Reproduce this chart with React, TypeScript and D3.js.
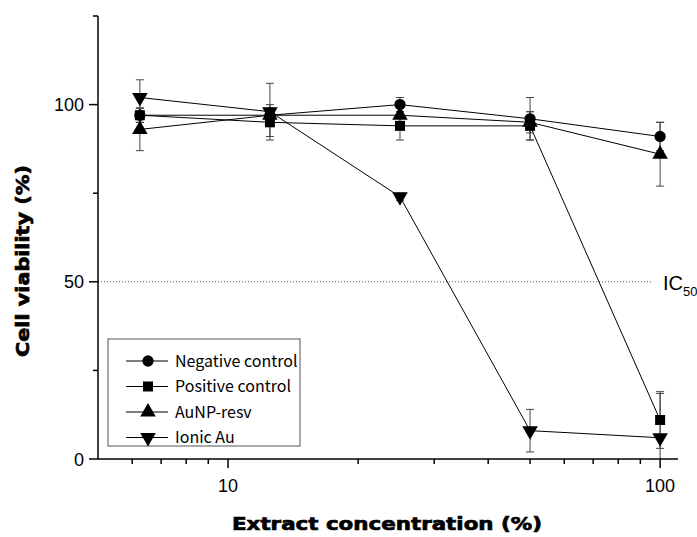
import React from "react";
import * as d3 from "d3";

// concentrations (%) and mean viability / error for each treatment
const concentrations = [6.25, 12.5, 25, 50, 100];

const negativeControl = [97, 97, 100, 96, 91];
const negativeErr = [2, 2, 2, 6, 4];

const positiveControl = [97, 95, 94, 94, 11];
const positiveErr = [2, 4, 4, 4, 8];

const aunpResv = [93, 97, 97, 95, 86];
const aunpErr = [6, 3, 2, 3, 9];

const ionicAu = [102, 98, 74, 8, 6];
const ionicErr = [5, 8, 1, 6, 12.5];

const seriesNames = ["Negative control", "Positive control", "AuNP-resv", "Ionic Au"];
const seriesShapes = ["circle", "square", "up", "down"];

const xMajorTicks = [10, 100];
const xMinorTicks = [6, 7, 8, 9, 20, 30, 40, 50, 60, 70, 80, 90];
const yMajorTicks = [0, 50, 100];
const yMinorTicks = [25, 75, 125];

const W = 697, H = 537;
const left = 98, right = 678, top = 16, bottom = 459;

function Marker({ shape, x, y }: { shape: string; x: number; y: number }) {
  let path: string | null = null;
  let rot = 0;
  if (shape === "circle") path = d3.symbol(d3.symbolCircle, 100)();
  if (shape === "square") path = d3.symbol(d3.symbolSquare, 100)();
  if (shape === "up") path = d3.symbol(d3.symbolTriangle, 105)();
  if (shape === "down") {
    path = d3.symbol(d3.symbolTriangle, 105)();
    rot = 180;
  }
  return <path d={path || ""} transform={`translate(${x},${y}) rotate(${rot})`} fill="#000" />;
}

export default function App() {
  const x = d3.scaleLog().domain([5, 110]).range([left, right]);
  const y = d3.scaleLinear().domain([0, 125]).range([bottom, top]);

  const series = [
    { values: negativeControl, err: negativeErr },
    { values: positiveControl, err: positiveErr },
    { values: aunpResv, err: aunpErr },
    { values: ionicAu, err: ionicErr },
  ];

  const line = d3
    .line<number>()
    .x((_, i) => x(concentrations[i]))
    .y((d) => y(d));

  const legendX = 108, legendY = 339, legendRow = 25.5;
  const tickFont = "Liberation Sans, Arial";

  return (
    <svg width={W} height={H} style={{ position: "absolute", left: 0, top: 0, background: "#fff" }}>
      {/* IC50 reference line */}
      <line x1={left} x2={653} y1={y(50)} y2={y(50)} stroke="#555" strokeWidth={1} strokeDasharray="1,2" />
      <text x={663} y={y(50) + 8} fontFamily={tickFont} fontSize={20}>
        IC<tspan fontSize={13} dy={6}>50</tspan>
      </text>

      {/* lines */}
      {series.map((s, k) => (
        <path key={"l" + k} d={line(s.values) || ""} fill="none" stroke="#000" strokeWidth={1} />
      ))}

      {/* error bars */}
      {series.map((s, k) =>
        s.values.map((v, i) => {
          const cx = x(concentrations[i]);
          const yTop = y(v + s.err[i]);
          const lowVal = v - s.err[i];
          const yLow = y(Math.max(0, lowVal));
          return (
            <g key={"e" + k + "-" + i} stroke="#444" strokeWidth={1}>
              <line x1={cx} x2={cx} y1={yTop} y2={yLow} />
              <line x1={cx - 4} x2={cx + 4} y1={yTop} y2={yTop} />
              {lowVal > 0 && <line x1={cx - 4} x2={cx + 4} y1={yLow} y2={yLow} />}
            </g>
          );
        })
      )}

      {/* markers */}
      {series.map((s, k) =>
        s.values.map((v, i) => (
          <Marker key={"m" + k + "-" + i} shape={seriesShapes[k]} x={x(concentrations[i])} y={y(v)} />
        ))
      )}

      {/* axes */}
      <line x1={left} x2={left} y1={top} y2={bottom} stroke="#000" strokeWidth={1.5} />
      <line x1={left} x2={right} y1={bottom} y2={bottom} stroke="#000" strokeWidth={1.5} />
      {yMajorTicks.map((t) => (
        <g key={"ym" + t}>
          <line x1={left - 9} x2={left} y1={y(t)} y2={y(t)} stroke="#000" strokeWidth={1.5} />
          <text x={left - 14} y={y(t) + 6.5} textAnchor="end" fontFamily={tickFont} fontSize={18}>
            {t}
          </text>
        </g>
      ))}
      {yMinorTicks.map((t) => (
        <line key={"yn" + t} x1={left - 5} x2={left} y1={y(t)} y2={y(t)} stroke="#000" strokeWidth={1.5} />
      ))}
      {xMajorTicks.map((t) => (
        <g key={"xm" + t}>
          <line x1={x(t)} x2={x(t)} y1={bottom} y2={bottom + 9} stroke="#000" strokeWidth={1.5} />
          <text x={x(t)} y={492} textAnchor="middle" fontFamily={tickFont} fontSize={18}>
            {t}
          </text>
        </g>
      ))}
      {xMinorTicks.map((t) => (
        <line key={"xn" + t} x1={x(t)} x2={x(t)} y1={bottom} y2={bottom + 5} stroke="#000" strokeWidth={1.5} />
      ))}

      {/* axis titles */}
      <text
        x={232}
        y={530}
        fontFamily="DejaVu Sans"
        fontWeight="bold"
        fontSize={18}
        textLength={310}
        lengthAdjust="spacingAndGlyphs"
        stroke="#000"
        strokeWidth={0.7}
      >
        Extract concentration (%)
      </text>
      <text
        transform={`translate(29,${261}) rotate(-90)`}
        textAnchor="middle"
        fontFamily="DejaVu Sans"
        fontWeight="bold"
        fontSize={18}
        textLength={192}
        lengthAdjust="spacingAndGlyphs"
        stroke="#000"
        strokeWidth={0.7}
      >
        Cell viability (%)
      </text>

      {/* legend */}
      <rect x={legendX} y={legendY} width={192} height={107} fill="#fff" stroke="#555" strokeWidth={1} />
      {seriesNames.map((name, k) => {
        const ly = legendY + 22 + k * legendRow;
        return (
          <g key={"lg" + k}>
            <line x1={legendX + 18} x2={legendX + 60} y1={ly} y2={ly} stroke="#000" strokeWidth={1} />
            <Marker shape={seriesShapes[k]} x={legendX + 40} y={ly} />
            <text x={legendX + 67} y={ly + 5.5} fontFamily="Noto Sans CJK KR" fontSize={16}>
              {name}
            </text>
          </g>
        );
      })}
    </svg>
  );
}
